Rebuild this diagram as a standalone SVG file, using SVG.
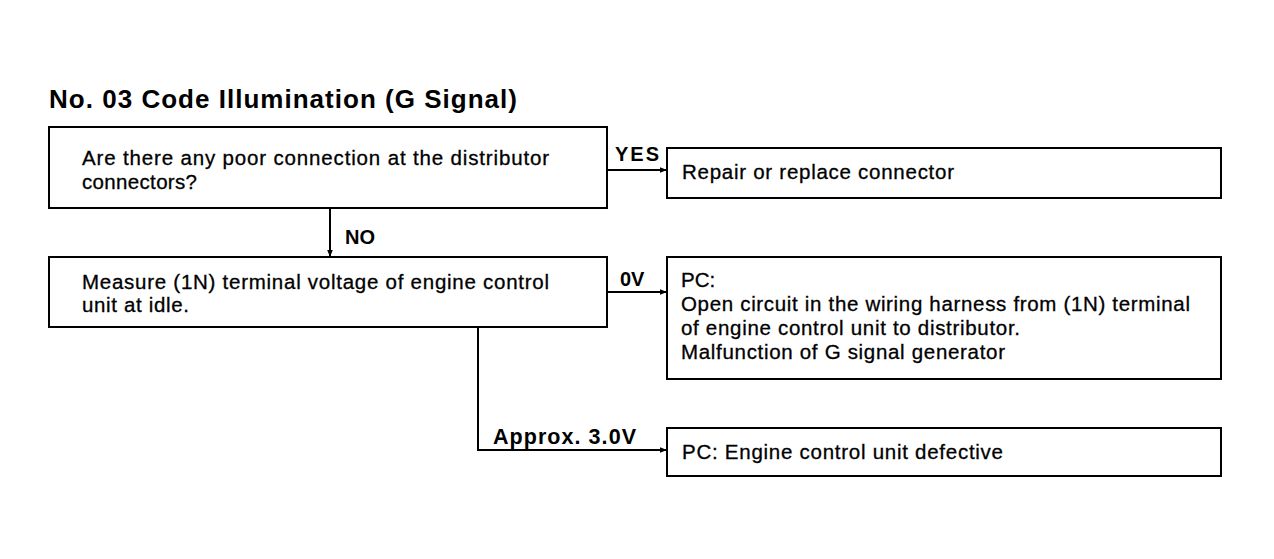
<svg xmlns="http://www.w3.org/2000/svg" width="1274" height="559" viewBox="0 0 1274 559">
<defs>
<style>
.box{fill:#fff;stroke:#000;stroke-width:2}
.t{font-family:"Liberation Sans",Arial,sans-serif;font-size:20.5px;fill:#000;stroke:#000;stroke-width:0.3}
.lbl{font-family:"Liberation Sans",Arial,sans-serif;font-size:20px;font-weight:bold;fill:#000}
.ttl{font-family:"Liberation Sans",Arial,sans-serif;font-size:26px;font-weight:bold;fill:#000}
.c{fill:none;stroke:#000;stroke-width:2}
</style>
<marker id="ah" viewBox="0 0 10 10" refX="10" refY="5" markerWidth="7" markerHeight="7" markerUnits="userSpaceOnUse" orient="auto">
<path d="M0,1 L10,5 L0,9 Z" fill="#000"/>
</marker>
</defs>
<rect width="1274" height="559" fill="#fff"/>
<text class="ttl" x="49" y="108" textLength="468" lengthAdjust="spacing">No. 03 Code Illumination (G Signal)</text>
<g id="connectors">
<path class="c" d="M607,170 L667,170" marker-end="url(#ah)"/>
<path class="c" d="M330,208 L330,257" marker-end="url(#ah)"/>
<path class="c" d="M607,292 L667,292" marker-end="url(#ah)"/>
<path class="c" d="M478,327 L478,450 L667,450" marker-end="url(#ah)"/>
<text class="lbl" x="615" y="161" textLength="44" lengthAdjust="spacing">YES</text>
<text class="lbl" x="345" y="244">NO</text>
<text class="lbl" x="620" y="286">0V</text>
<text class="lbl" x="493" y="444" style="font-size:21.5px" textLength="143" lengthAdjust="spacing">Approx. 3.0V</text>
</g>
<g id="q1">
<rect class="box" x="49" y="127" width="558" height="81"/>
<text class="t" x="82" y="165" textLength="467" lengthAdjust="spacing">Are there any poor connection at the distributor</text>
<text class="t" x="82" y="189" textLength="115" lengthAdjust="spacing">connectors?</text>
</g>
<g id="r1">
<rect class="box" x="667" y="148" width="554" height="50"/>
<text class="t" x="682" y="179" textLength="272" lengthAdjust="spacing">Repair or replace connector</text>
</g>
<g id="q2">
<rect class="box" x="49" y="257" width="558" height="70"/>
<text class="t" x="82" y="289" textLength="467" lengthAdjust="spacing">Measure (1N) terminal voltage of engine control</text>
<text class="t" x="82" y="312" textLength="107" lengthAdjust="spacing">unit at idle.</text>
</g>
<g id="r2">
<rect class="box" x="667" y="257" width="554" height="122"/>
<text class="t" x="681" y="287">PC:</text>
<text class="t" x="681" y="311" textLength="509" lengthAdjust="spacing">Open circuit in the wiring harness from (1N) terminal</text>
<text class="t" x="681" y="335" textLength="339" lengthAdjust="spacing">of engine control unit to distributor.</text>
<text class="t" x="681" y="359" textLength="324" lengthAdjust="spacing">Malfunction of G signal generator</text>
</g>
<g id="r3">
<rect class="box" x="667" y="428" width="554" height="48"/>
<text class="t" x="682" y="459" textLength="321" lengthAdjust="spacing">PC: Engine control unit defective</text>
</g>
</svg>
